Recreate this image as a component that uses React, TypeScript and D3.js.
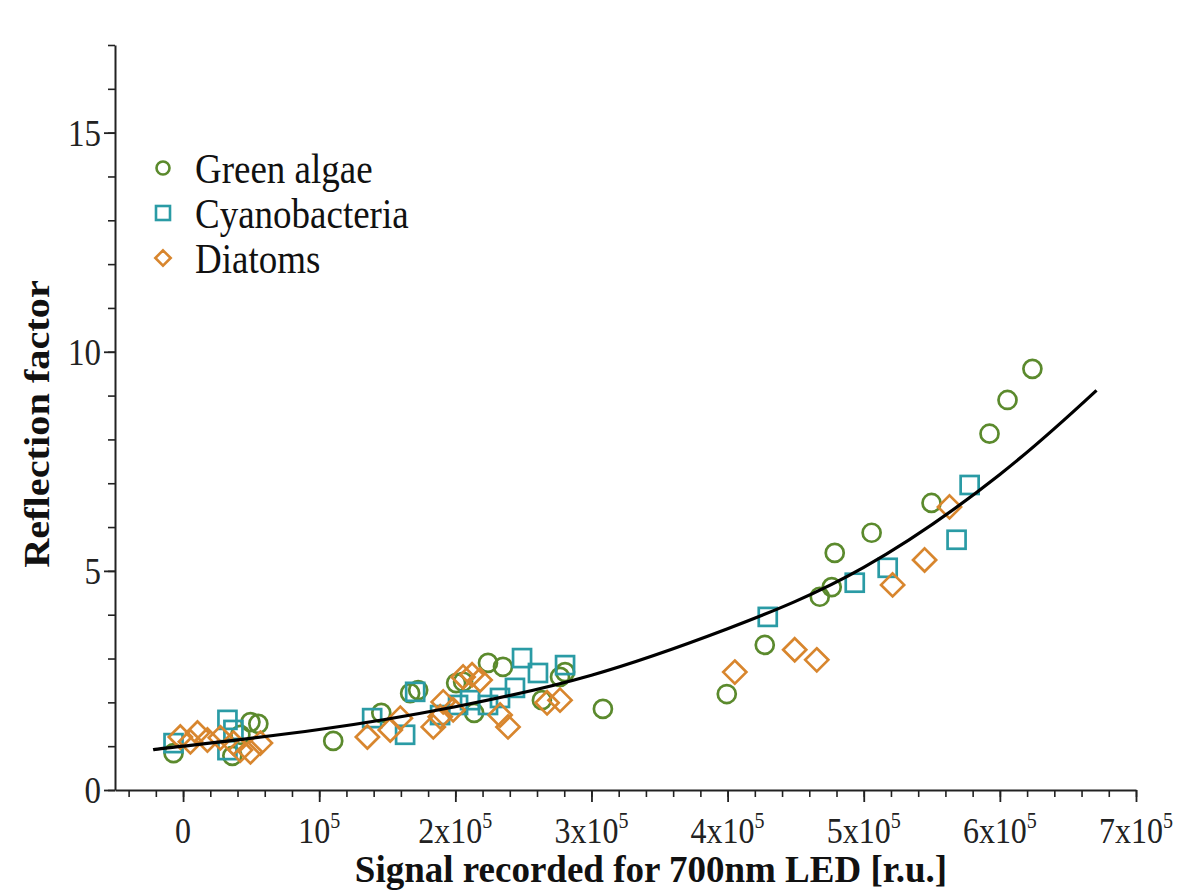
import React, { useEffect, useRef } from "react";
import * as d3 from "d3";

// values (x in r.u., y = reflection factor)
const greenX = [-7000, 36200, 49500, 55300, 42100, 110300, 145600, 166800, 172700, 200600, 205700, 213800, 224000, 235000, 263600, 276900, 280600, 308400, 399400, 427300, 467700, 476500, 478700, 505800, 549800, 592400, 605600, 623900];
const greenY = [0.84, 0.78, 1.55, 1.51, 1.26, 1.12, 1.76, 2.21, 2.28, 2.44, 2.47, 1.76, 2.9, 2.81, 2.05, 2.58, 2.69, 1.85, 2.19, 3.31, 4.41, 4.63, 5.41, 5.87, 6.55, 8.13, 8.9, 9.61];

const cyanoX = [-7000, 32600, 37000, 32600, 138900, 163100, 170500, 188800, 202000, 210800, 224000, 232800, 243800, 249000, 260700, 280600, 429500, 493400, 517600, 568200, 577800];
const cyanoY = [1.07, 1.6, 1.37, 0.91, 1.64, 1.26, 2.24, 1.71, 1.94, 2.05, 1.94, 2.1, 2.33, 3.01, 2.67, 2.85, 3.95, 4.73, 5.07, 5.71, 6.96];

const diatomX = [-2000, 5400, 10600, 17900, 27400, 37000, 42100, 49500, 56800, 135400, 152200, 159600, 183800, 188900, 191100, 198400, 205700, 212300, 218200, 232900, 238700, 267400, 276900, 405300, 449300, 465500, 521200, 544700, 563000];
const diatomY = [1.21, 1.1, 1.3, 1.14, 1.19, 1.07, 0.91, 0.87, 1.07, 1.21, 1.37, 1.64, 1.44, 1.67, 2.01, 1.83, 2.58, 2.63, 2.51, 1.71, 1.44, 1.99, 2.05, 2.69, 3.2, 2.97, 4.68, 5.25, 6.46];

// fitted curve, sampled from the figure
const curveX = [-22000, 0, 100000, 200000, 300000, 400000, 500000, 600000, 671000];
const curveY = [0.92, 1.0, 1.38, 1.9, 2.62, 3.68, 5.08, 7.2, 9.12];

const xMajor = [0, 100000, 200000, 300000, 400000, 500000, 600000, 700000];
const xLabelBase = ["0", "10", "2x10", "3x10", "4x10", "5x10", "6x10", "7x10"];
const xLabelExp = ["", "5", "5", "5", "5", "5", "5", "5"];
const yMajor = [0, 5, 10, 15];

const seriesNames = ["Green algae", "Cyanobacteria", "Diatoms"];
const seriesColors = ["#5b8a2d", "#2a9ba5", "#d8862e"];

const FONT = "'Liberation Serif', 'Times New Roman', serif";
const STRETCH = 1.12; // the original figure is a bit taller than wide

export default function App() {
  const ref = useRef<SVGSVGElement>(null);

  useEffect(() => {
    const svg = d3.select(ref.current);
    svg.selectAll("*").remove();

    const x = d3.scaleLinear().domain([-50000, 700000]).range([115, 1136]);
    const y = d3.scaleLinear().domain([0, 17]).range([790, 45]);

    // axes
    svg.append("g")
      .attr("transform", `translate(0,${y(0)})`)
      .call(d3.axisBottom(x).tickValues(d3.range(-40000, 700001, 20000)).tickSize(7).tickFormat(() => "").tickSizeOuter(0))
      .call(g => g.select(".domain").attr("stroke", "#222").attr("stroke-width", 2))
      .call(g => g.selectAll(".tick line").attr("stroke", "#222").attr("stroke-width", 1.6));
    svg.append("g")
      .attr("transform", `translate(0,${y(0)})`)
      .call(d3.axisBottom(x).tickValues(xMajor).tickSize(12).tickFormat(() => ""))
      .call(g => g.select(".domain").remove())
      .call(g => g.selectAll(".tick line").attr("stroke", "#222").attr("stroke-width", 1.8));

    svg.append("g")
      .attr("transform", `translate(${x(-50000)},0)`)
      .call(d3.axisLeft(y).tickValues(d3.range(0, 18, 1)).tickSize(7).tickFormat(() => "").tickSizeOuter(0))
      .call(g => g.select(".domain").attr("stroke", "#222").attr("stroke-width", 2))
      .call(g => g.selectAll(".tick line").attr("stroke", "#222").attr("stroke-width", 1.6));
    svg.append("g")
      .attr("transform", `translate(${x(-50000)},0)`)
      .call(d3.axisLeft(y).tickValues(yMajor).tickSize(11).tickFormat(() => ""))
      .call(g => g.select(".domain").remove())
      .call(g => g.selectAll(".tick line").attr("stroke", "#222").attr("stroke-width", 1.8));

    // tick labels
    const xl = svg.append("g").attr("font-family", FONT).attr("fill", "#222");
    xMajor.forEach((v, i) => {
      const t = xl.append("text")
        .attr("transform", `translate(${x(v)},843) scale(1,${STRETCH})`)
        .attr("text-anchor", "middle")
        .attr("font-size", 32);
      t.append("tspan").text(xLabelBase[i]);
      if (xLabelExp[i]) {
        t.append("tspan").attr("dy", -13).attr("font-size", 20).text(xLabelExp[i]);
      }
    });
    svg.append("g").attr("font-family", FONT).attr("fill", "#222")
      .selectAll("text")
      .data(yMajor)
      .join("text")
      .attr("transform", d => `translate(101,${y(d)}) scale(1,${STRETCH})`)
      .attr("dy", "0.35em")
      .attr("text-anchor", "end")
      .attr("font-size", 33)
      .text(d => d);

    // axis titles
    svg.append("text")
      .attr("x", 651)
      .attr("y", 882)
      .attr("text-anchor", "middle")
      .attr("font-family", FONT)
      .attr("font-weight", "bold")
      .attr("font-size", 37)
      .attr("fill", "#111")
      .text("Signal recorded for 700nm LED [r.u.]");
    svg.append("text")
      .attr("transform", `translate(49,424) scale(1,${STRETCH}) rotate(-90)`)
      .attr("text-anchor", "middle")
      .attr("font-family", FONT)
      .attr("font-weight", "bold")
      .attr("font-size", 36)
      .attr("fill", "#111")
      .text("Reflection factor");

    // points
    const sw = 2.7;
    svg.append("g")
      .selectAll("circle")
      .data(d3.zip(greenX, greenY))
      .join("circle")
      .attr("cx", d => x(d[0]))
      .attr("cy", d => y(d[1]))
      .attr("r", 9)
      .attr("fill", "none")
      .attr("stroke", seriesColors[0])
      .attr("stroke-width", sw);

    const s = 18;
    svg.append("g")
      .selectAll("rect")
      .data(d3.zip(cyanoX, cyanoY))
      .join("rect")
      .attr("x", d => x(d[0]) - s / 2)
      .attr("y", d => y(d[1]) - s / 2)
      .attr("width", s)
      .attr("height", s)
      .attr("fill", "none")
      .attr("stroke", seriesColors[1])
      .attr("stroke-width", sw);

    const diamond = d3.symbol().type(d3.symbolDiamond2).size(340);
    svg.append("g")
      .selectAll("path")
      .data(d3.zip(diatomX, diatomY))
      .join("path")
      .attr("transform", d => `translate(${x(d[0])},${y(d[1])})`)
      .attr("d", diamond())
      .attr("fill", "none")
      .attr("stroke", seriesColors[2])
      .attr("stroke-width", sw);

    // fit curve
    const line = d3.line<[number, number]>()
      .x(d => x(d[0]))
      .y(d => y(d[1]))
      .curve(d3.curveNatural);
    svg.append("path")
      .datum(d3.zip(curveX, curveY) as [number, number][])
      .attr("d", line)
      .attr("fill", "none")
      .attr("stroke", "#000")
      .attr("stroke-width", 3.2);

    // legend
    const lg = svg.append("g").attr("transform", "translate(163,168)");
    const rowH = 45;
    lg.append("circle").attr("cx", 0).attr("cy", 0).attr("r", 6.5)
      .attr("fill", "none").attr("stroke", seriesColors[0]).attr("stroke-width", 2.6);
    lg.append("rect").attr("x", -7).attr("y", rowH - 7).attr("width", 14).attr("height", 14)
      .attr("fill", "none").attr("stroke", seriesColors[1]).attr("stroke-width", 2.6);
    lg.append("path").attr("transform", `translate(0,${rowH * 2})`)
      .attr("d", d3.symbol().type(d3.symbolDiamond2).size(150)())
      .attr("fill", "none").attr("stroke", seriesColors[2]).attr("stroke-width", 2.6);
    lg.selectAll("text")
      .data(seriesNames)
      .join("text")
      .attr("transform", (d, i) => `translate(32,${i * rowH}) scale(1,${STRETCH})`)
      .attr("dy", "0.35em")
      .attr("font-family", FONT)
      .attr("font-size", 37)
      .attr("fill", "#111")
      .text(d => d);
  }, []);

  return (
    <svg
      ref={ref}
      width={1182}
      height={891}
      style={{ position: "absolute", left: 0, top: 0, background: "#fff" }}
    />
  );
}
